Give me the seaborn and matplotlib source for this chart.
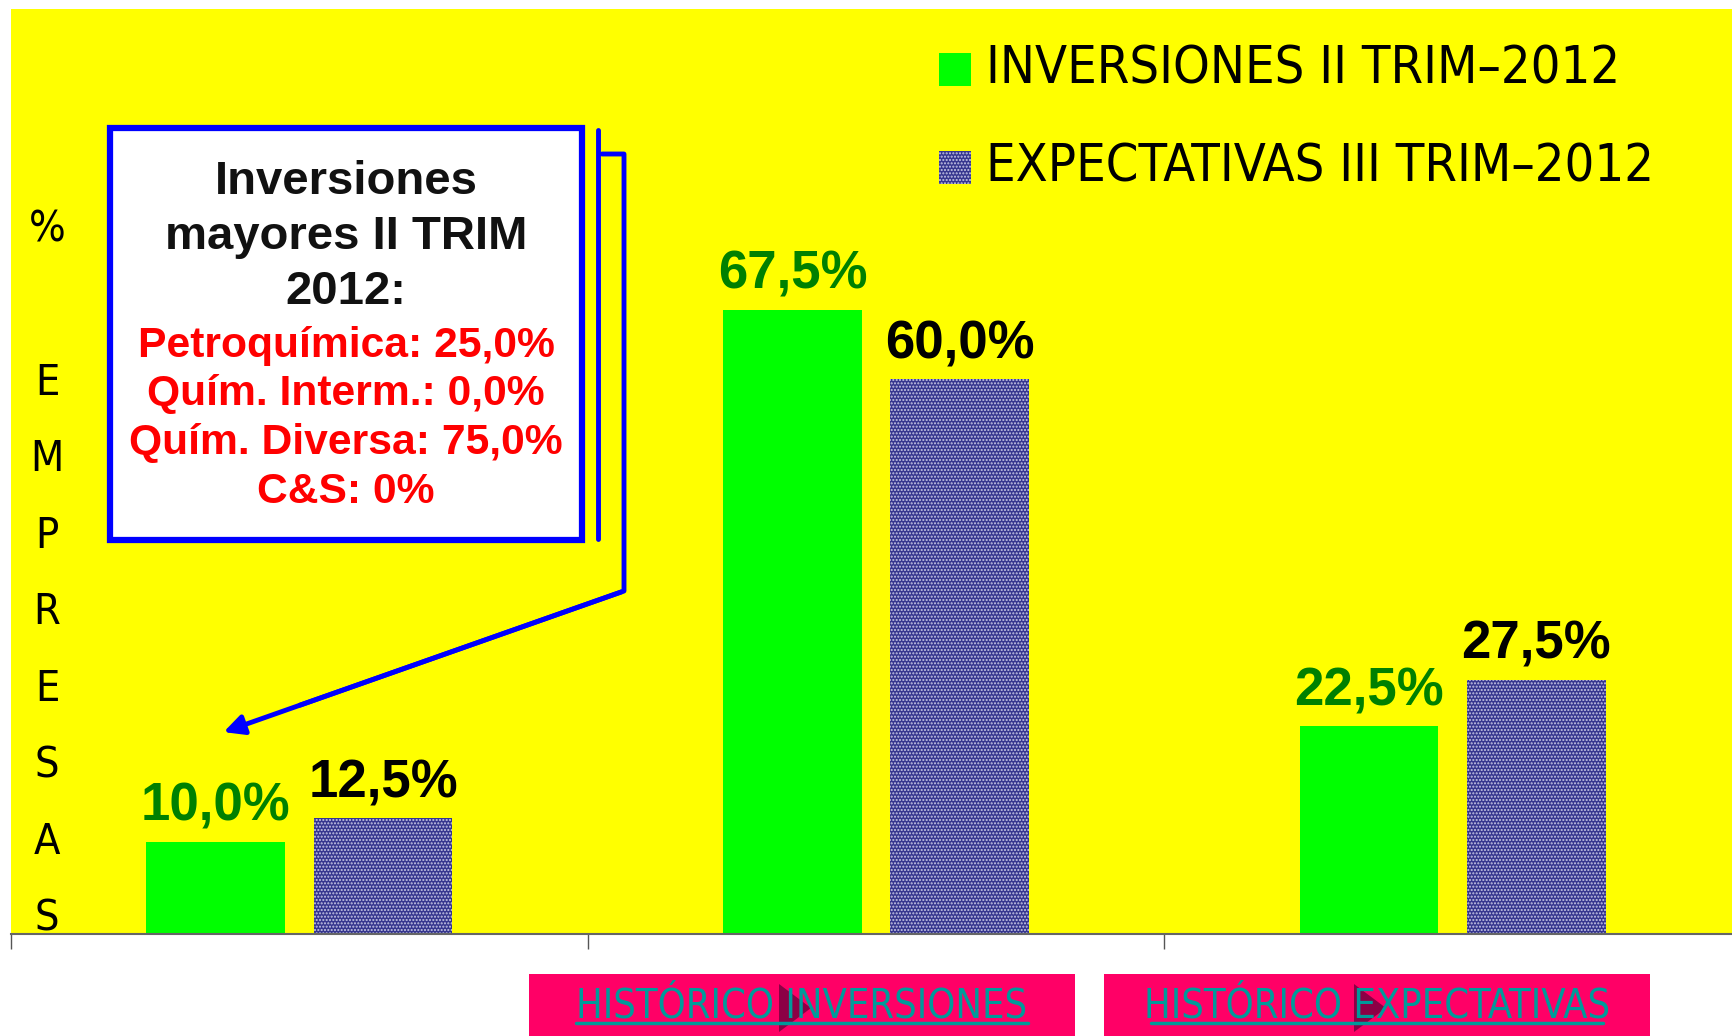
import matplotlib
matplotlib.use("Agg")
import matplotlib.pyplot as plt
import matplotlib.patches as mpatches
import matplotlib.lines as mlines
import seaborn as sns
import pandas as pd

W, H = 1732, 1036

GRUPOS = ["Grupo 1", "Grupo 2", "Grupo 3"]
SERIES = ["INVERSIONES II TRIM\u20132012", "EXPECTATIVAS III TRIM\u20132012"]
INVERSIONES = [10.0, 67.5, 22.5]
EXPECTATIVAS = [12.5, 60.0, 27.5]

TITULO_CAJA = ["Inversiones", "mayores II TRIM", "2012:"]
DETALLE_CAJA = ["Petroqu\u00edmica: 25,0%", "Qu\u00edm. Interm.: 0,0%",
                "Qu\u00edm. Diversa: 75,0%", "C&S: 0%"]
BOTONES = ["HIST\u00d3RICO INVERSIONES", "HIST\u00d3RICO EXPECTATIVAS"]
YLABEL = ["%", "", "E", "M", "P", "R", "E", "S", "A", "S"]

VERDE = "#00ff00"
AZUL = "#36368f"
AMARILLO = "#ffff00"
ROSA = "#ff0066"
TEAL = "#009a9a"

COND = dict(family="DejaVu Sans", stretch="condensed")
ARIAL = "Liberation Sans"

sns.set_style("white")
plt.rcParams["hatch.linewidth"] = 1.0


def fx(x):
    return x / W


def fy(y):
    return 1 - y / H


df = pd.DataFrame({
    "grupo": GRUPOS * 2,
    "valor": INVERSIONES + EXPECTATIVAS,
    "serie": [SERIES[0]] * 3 + [SERIES[1]] * 3,
})

fig = plt.figure(figsize=(W / 100, H / 100), dpi=100)
fig.patch.set_facecolor("white")
ax = fig.add_axes([fx(11), fy(934), 1730 / W, 925 / H])
ax.set_facecolor(AMARILLO)

sns.barplot(data=df, x="grupo", y="valor", hue="serie", hue_order=SERIES,
            palette={SERIES[0]: VERDE, SERIES[1]: AZUL}, saturation=1,
            width=0.58, gap=0.172, legend=False, ax=ax)

for bar in ax.patches:
    r, g, b, _ = bar.get_facecolor()
    es_azul = b > 0.5
    if es_azul:
        bar.set_hatch(".....")
        bar.set_edgecolor("#c8c8e6")
        bar.set_linewidth(0)
    else:
        bar.set_linewidth(0)
    v = bar.get_height()
    ax.annotate(f"{v:.1f}%".replace(".", ","),
                (bar.get_x() + bar.get_width() / 2, v),
                xytext=(0, 7), textcoords="offset points",
                ha="center", va="bottom", fontsize=38, fontweight="bold",
                family=ARIAL, color="black" if es_azul else "#008000")

ax.set_xlim(-0.5, 2.5)
ax.set_ylim(0, 100)
ax.set_xlabel("")
ax.set_ylabel("")
ax.set_yticks([])
ax.set_xticks([-0.5, 0.5, 1.5, 2.5])
ax.set_xticklabels([])
ax.tick_params(axis="x", direction="out", length=11, width=1, color="#555555", bottom=True)
for s in ["top", "right", "left"]:
    ax.spines[s].set_visible(False)
ax.spines["bottom"].set_color("#666666")
ax.spines["bottom"].set_linewidth(1.5)

# eje vertical: letras apiladas
for i, letra in enumerate(YLABEL):
    fig.text(fx(47), fy(230 + i * 76.5), letra, ha="center", va="center",
             fontsize=31, color="black", **COND)

# leyenda
for i, (nombre, color) in enumerate(zip(SERIES, [VERDE, AZUL])):
    y0 = 53 + i * 98
    p = mpatches.Rectangle((fx(939), fy(y0 + 33)), 32 / W, 33 / H,
                           transform=fig.transFigure, facecolor=color, linewidth=0)
    if i == 1:
        p.set_hatch(".....")
        p.set_edgecolor("#c8c8e6")
    fig.patches.append(p)
    fig.text(fx(986), fy(y0 + 17), nombre, ha="left", va="center",
             fontsize=37.5, color="black", **COND)

# caja de texto
caja = mpatches.Rectangle((fx(110), fy(540)), 472 / W, 412 / H,
                          transform=fig.transFigure, facecolor="white",
                          edgecolor="#0000ff", linewidth=4.5)
fig.patches.append(caja)
for i, t in enumerate(TITULO_CAJA):
    fig.text(fx(346), fy(182 + i * 55), t, ha="center", va="center",
             fontsize=34, fontweight="bold", family=ARIAL, color="#111111")
for i, t in enumerate(DETALLE_CAJA):
    fig.text(fx(346), fy(346 + i * 48.5), t, ha="center", va="center",
             fontsize=30.7, fontweight="bold", family=ARIAL, color="#ff0000")

# conector de la llamada
fig.lines.append(mlines.Line2D([fx(598), fx(598)], [fy(130), fy(539)],
                               transform=fig.transFigure, color="#0000ff", lw=3.5))
fig.lines.append(mlines.Line2D([fx(602), fx(624), fx(624), fx(300)],
                               [fy(154), fy(154), fy(591), fy(591 + (733 - 591) * (624 - 300) / (624 - 221))],
                               transform=fig.transFigure, color="#0000ff", lw=3.5))
fig.patches.append(mpatches.FancyArrowPatch(
    (fx(624), fy(591)), (fx(221), fy(733)), transform=fig.transFigure,
    arrowstyle="-|>", mutation_scale=30, color="#0000ff", lw=3.5))

# botones inferiores
for i, t in enumerate(BOTONES):
    x0 = 529 + i * 575
    fig.patches.append(mpatches.Rectangle((fx(x0), 0), 546 / W, 62 / H,
                                          transform=fig.transFigure,
                                          facecolor=ROSA, linewidth=0))
    cx = x0 + 273
    tx = cx - 23
    fig.patches.append(mpatches.Polygon(
        [(fx(tx), fy(984)), (fx(tx + 32), fy(1008)), (fx(tx), fy(1032))],
        closed=True, transform=fig.transFigure, facecolor="#8c0045", linewidth=0))
    fig.text(fx(cx), fy(1018), t, ha="center", va="baseline",
             fontsize=28.5, color=TEAL, **COND)
    fig.lines.append(mlines.Line2D([fx(cx - 226), fx(cx + 226)], [fy(1023), fy(1023)],
                                   transform=fig.transFigure, color=TEAL, lw=2.5))

fig.savefig("out.png", dpi=100)
